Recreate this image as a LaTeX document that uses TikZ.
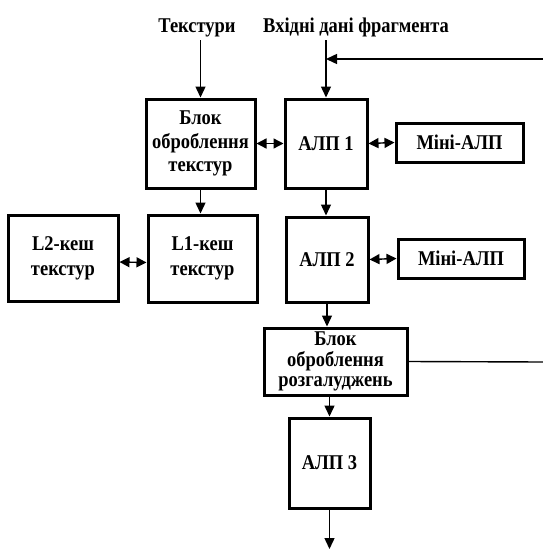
\documentclass[tikz,border=0pt]{standalone}
\usepackage{fontspec}
\setmainfont[FakeStretch=0.88]{Liberation Serif}
\usetikzlibrary{arrows.meta}
\begin{document}
\begin{tikzpicture}[x=1pt,y=-1pt,
 box/.style={draw,line width=3pt,inner sep=0pt,align=center,font=\fontsize{21}{23.5}\selectfont\bfseries},
 tight/.style={font=\fontsize{21}{20.5}\selectfont\bfseries},
 lbl/.style={font=\fontsize{21}{23}\selectfont\bfseries,inner sep=0pt,anchor=base},
 conn/.style={line width=1.4pt,-{Triangle[length=11pt,width=10pt]}},
 bi/.style={line width=1.4pt,{Triangle[length=10pt,width=10pt]}-{Triangle[length=10pt,width=10pt]}},
 plainline/.style={line width=1.4pt}]
\useasboundingbox (0,0) rectangle (543,549);
% top labels
\node[lbl] (texlbl) at (197,32) {Текстури};
\node[lbl] (inlbl) at (356,32) {Вхідні дані фрагмента};
% boxes
\node[box,minimum width=109pt,minimum height=89pt] (tex) at (200.5,143.5) {Блок\\оброблення\\текстур};
\node[box,minimum width=82pt,minimum height=89pt] (alu1) at (326,143.5) {АЛП 1};
\node[box,minimum width=127pt,minimum height=39pt] (mini1) at (459.5,142.5) {Міні-АЛП};
\node[box,minimum width=110pt,minimum height=86pt] (l2) at (63,258) {L2-кеш\\[1.5pt]текстур};
\node[box,minimum width=109pt,minimum height=87pt] (l1) at (202.5,258.5) {L1-кеш\\[1.5pt]текстур};
\node[box,minimum width=82pt,minimum height=85pt] (alu2) at (327,259.5) {АЛП 2};
\node[box,minimum width=126pt,minimum height=39pt] (mini2) at (461,258.5) {Міні-АЛП};
\node[box,tight,minimum width=143pt,minimum height=67pt] (br) at (335.5,361.5) {Блок\\оброблення\\розгалуджень};
\node[box,minimum width=81pt,minimum height=90pt] (alu3) at (329.5,463) {АЛП 3};
% free ends
\coordinate (tin) at (200.5,40);
\coordinate (fin) at (326,40);
\coordinate (fbR) at (543,59);
\coordinate (fbL) at (326,59);
\coordinate (brR) at (543,362);
\coordinate (out) at (329.5,549);
% connectors
\draw[conn] (tin) -- (tex.north);
\draw[conn] (fin) -- (alu1.north);
\draw[conn] (fbR) -- (fbL);
\draw[bi] (tex.east) -- (alu1.west);
\draw[bi] (alu1.east) -- (mini1.west);
\draw[conn] (tex.south) -- (tex.south |- l1.north);
\draw[conn] (alu1.south) -- (alu1.south |- alu2.north);
\draw[bi] ([yshift=-4pt]l2.east) -- ([yshift=-4pt]l1.west);
\draw[bi] (alu2.east) -- (mini2.west);
\draw[conn] (alu2.south) -- (alu2.south |- br.north);
\draw[plainline] (br.east) -- (brR);
\draw[conn] (alu3.north |- br.south) -- (alu3.north);
\draw[conn] (alu3.south) -- (out);
\end{tikzpicture}
\end{document}
